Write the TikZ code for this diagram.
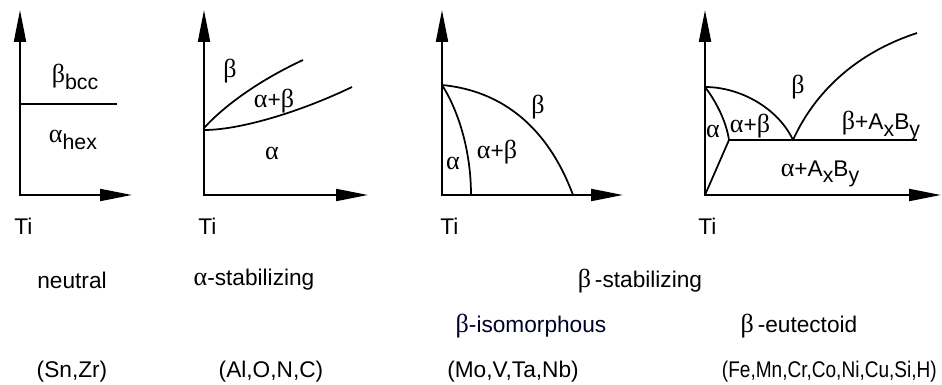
\documentclass[tikz,border=0pt]{standalone}
\usepackage{fontspec}
\usepackage{graphicx}
\setmainfont{Liberation Sans}
\newfontfamily\grkfont[Scale=1.15]{Liberation Serif}
\usetikzlibrary{arrows.meta}

\newcommand{\alp}{{\grkfont α}}
\newcommand{\bet}{{\grkfont β}}
\newcommand{\lowsub}[1]{\raisebox{-0.3em}{\fontsize{16pt}{16pt}\selectfont #1}}

\begin{document}
\begin{tikzpicture}[x=0.75pt, y=-0.75pt,
    axis/.style={line width=1.5pt, {Triangle[length=24pt,width=9pt]}-{Triangle[length=24pt,width=9pt]}},
    phase/.style={line width=1.3pt},
    lbl/.style={font=\fontsize{17pt}{20pt}\selectfont, inner sep=0pt},
    isotxt/.style={lbl, text=black!85!blue},
]
\useasboundingbox (0,0) rectangle (942,385);

% panel 1: neutral
\coordinate (y1) at (20,10);
\coordinate (o1) at (20,195);
\coordinate (x1) at (132,195);
\coordinate (a1) at (20,104);
\coordinate (b1) at (117,104);
\draw[axis] (y1) -- (o1) -- (x1);
\draw[phase] (a1) -- (b1);
\node[lbl] (bcc) at (75,77) {\bet\lowsub{bcc}};
\node[lbl] (hex) at (73,140) {\alp\lowsub{hex}};
\node[lbl, anchor=west] (ti1) at (14,226) {Ti};

% panel 2: alpha-stabilizing
\coordinate (y2) at (204,10);
\coordinate (o2) at (204,195);
\coordinate (x2) at (368,195);
\coordinate (a2) at (204,128);
\coordinate (b2) at (303,60);
\coordinate (c2) at (204,130);
\coordinate (d2) at (352,87);
\draw[axis] (y2) -- (o2) -- (x2);
\draw[phase] (a2) .. controls (225,105) and (260,80) .. (b2);
\draw[phase] (c2) .. controls (240,130) and (300,112) .. (d2);
\node[lbl] (beta2) at (230,71) {\bet};
\node[lbl] (ab2) at (274,101) {\alp+\bet};
\node[lbl] (alpha2) at (272,153) {\alp};
\node[lbl, anchor=west] (ti2) at (198,226) {Ti};

% panel 3: beta-isomorphous
\coordinate (y3) at (442,10);
\coordinate (o3) at (442,195);
\coordinate (x3) at (623,195);
\coordinate (a3) at (442,85);
\coordinate (b3) at (573,195);
\coordinate (c3) at (471,195);
\draw[axis] (y3) -- (o3) -- (x3);
\draw[phase] (a3) .. controls (495,90) and (545,120) .. (b3);
\draw[phase] (a3) .. controls (458,110) and (471,150) .. (c3);
\node[lbl] (beta3) at (538,107) {\bet};
\node[lbl] (ab3) at (497,152) {\alp+\bet};
\node[lbl] (alpha3) at (453,163) {\alp};
\node[lbl, anchor=west] (ti3) at (440,226) {Ti};

% panel 4: beta-eutectoid
\coordinate (y4) at (705,10);
\coordinate (o4) at (705,195);
\coordinate (x4) at (941,195);
\coordinate (a4) at (705,87);
\coordinate (tp) at (729,140);
\coordinate (ep) at (793,140);
\coordinate (r4) at (917,140);
\coordinate (s4) at (917,33);
\draw[axis] (y4) -- (o4) -- (x4);
\draw[phase] (a4) .. controls (740,87) and (778,108) .. (ep);
\draw[phase] (ep) .. controls (812,98) and (850,55) .. (s4);
\draw[phase] (a4) .. controls (715,100) and (726,120) .. (tp);
\draw[phase] (tp) -- (o4);
\draw[phase] (tp) -- (r4);
\node[lbl] (beta4) at (798,87) {\bet};
\node[lbl] (bab) at (881,126) {\bet+A\lowsub{x}B\lowsub{y}};
\node[lbl] (aab) at (820,174) {\alp+A\lowsub{x}B\lowsub{y}};
\node[lbl] (alpha4) at (713,131) {\alp};
\node[lbl] (ab4) at (750,126) {\alp+\bet};
\node[lbl, anchor=west] (ti4) at (698,226) {Ti};

% captions
\node[lbl] (neutral) at (72,280) {neutral};
\node[lbl] (astab) at (254,280) {\alp-stabilizing};
\node[lbl] (bstab) at (640,281) {\bet\,-stabilizing};
\node[isotxt] (biso) at (531,326) {\bet-isomorphous};
\node[lbl] (beut) at (799,326) {\bet\,-eutectoid};
\node[lbl] (el1) at (72,372) {(Sn,Zr)};
\node[lbl] (el2) at (271,372) {(Al,O,N,C)};
\node[lbl] (el3) at (513,372) {(Mo,V,Ta,Nb)};
\node[lbl, anchor=east] (el4) at (937,372) {\scalebox{0.84}[1]{(Fe,Mn,Cr,Co,Ni,Cu,Si,H)}};
\end{tikzpicture}
\end{document}
